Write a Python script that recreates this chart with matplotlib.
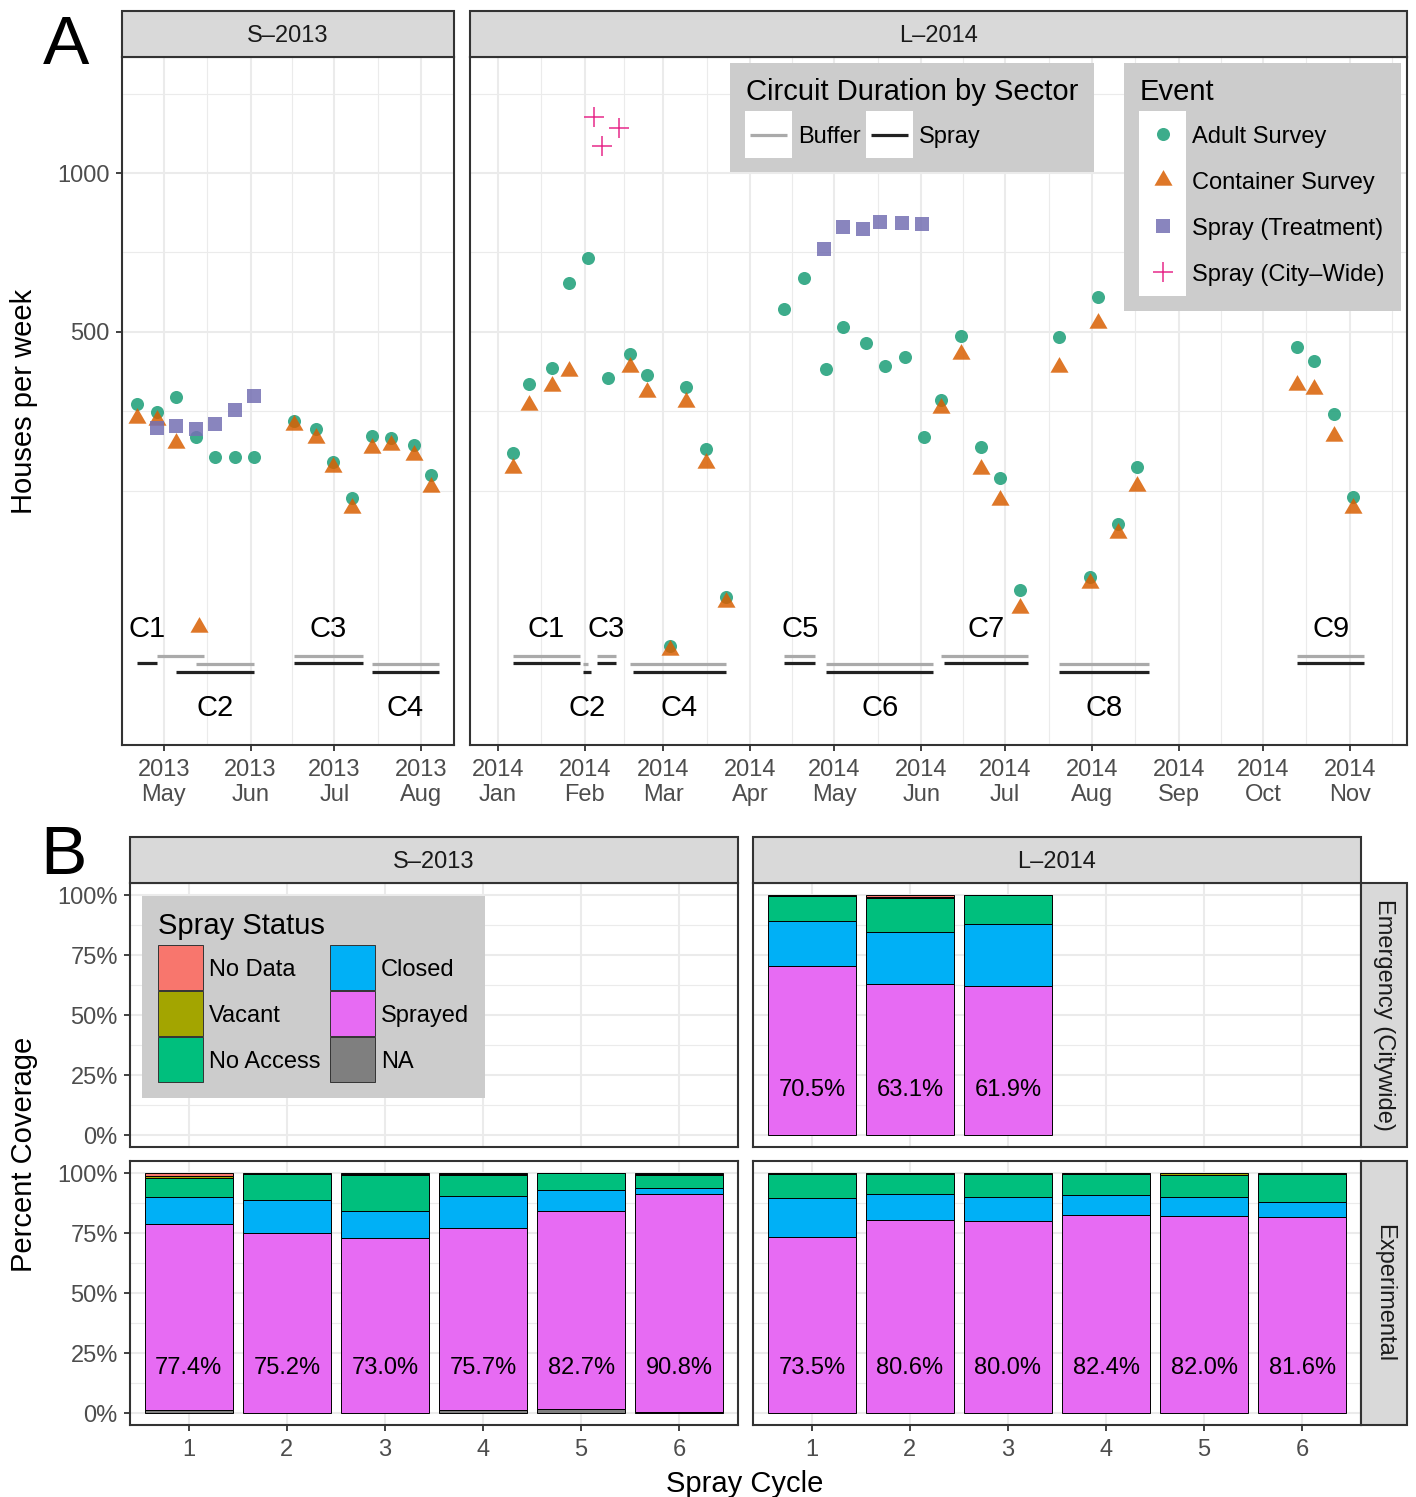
"""Survey / spray timeline (A) and spray coverage by cycle (B)."""

import matplotlib

matplotlib.use("Agg")
import matplotlib.dates as mdates
import matplotlib.pyplot as plt
import numpy as np
import pandas as pd
from matplotlib.patches import Rectangle
from matplotlib.path import Path
from matplotlib.ticker import FixedLocator, FuncFormatter, NullFormatter
from matplotlib.transforms import offset_copy

plt.rcParams["font.family"] = ["Liberation Sans", "DejaVu Sans"]

# ---------------- panel A : houses per week ----------------
s13_adult_dates = ["2013-04-22", "2013-04-29", "2013-05-06", "2013-05-13", "2013-05-20",
                   "2013-05-27", "2013-06-03", "2013-06-17", "2013-06-25", "2013-07-01",
                   "2013-07-08", "2013-07-15", "2013-07-22", "2013-07-30", "2013-08-05"]
s13_adult = [365, 353, 377, 316, 290, 290, 290, 339, 327, 284, 242, 318, 315, 305, 268]
s13_container_dates = ["2013-04-22", "2013-04-29", "2013-05-06", "2013-05-14", "2013-06-17",
                       "2013-06-25", "2013-07-01", "2013-07-08", "2013-07-15", "2013-07-22",
                       "2013-07-30", "2013-08-05"]
s13_container = [344, 340, 308, 138, 333, 315, 277, 232, 301, 305, 292, 254]
s13_treat_dates = ["2013-04-29", "2013-05-06", "2013-05-13", "2013-05-20", "2013-05-27",
                   "2013-06-03"]
s13_treat = [329, 332, 327, 335, 356, 378]
s13_city_dates = []
s13_city = []

s13_cycles = ["C1", "C2", "C3", "C4"]
s13_buffer_start = ["2013-04-29", "2013-05-13", "2013-06-17", "2013-07-15"]
s13_buffer_end = ["2013-05-16", "2013-06-03", "2013-07-12", "2013-08-08"]
s13_spray_start = ["2013-04-22", "2013-05-06", "2013-06-17", "2013-07-15"]
s13_spray_end = ["2013-04-29", "2013-06-03", "2013-07-12", "2013-08-08"]

l14_adult_dates = ["2014-01-07", "2014-01-13", "2014-01-21", "2014-01-27", "2014-02-03",
                   "2014-02-10", "2014-02-18", "2014-02-24", "2014-03-04", "2014-03-10",
                   "2014-03-17", "2014-03-24", "2014-04-14", "2014-04-21", "2014-04-29",
                   "2014-05-05", "2014-05-13", "2014-05-20", "2014-05-27", "2014-06-03",
                   "2014-06-09", "2014-06-16", "2014-06-23", "2014-06-30", "2014-07-07",
                   "2014-07-21", "2014-08-01", "2014-08-04", "2014-08-11", "2014-08-18",
                   "2014-10-14", "2014-10-20", "2014-10-27", "2014-11-03"]
l14_adult = [295, 398, 427, 619, 690, 409, 454, 414, 127, 393,
             300, 157, 553, 633, 425, 511, 477, 431, 448, 316,
             372, 491, 303, 264, 162, 489, 172, 582, 216, 277,
             468, 440, 350, 243]
l14_container_dates = ["2014-01-07", "2014-01-13", "2014-01-21", "2014-01-27", "2014-02-18",
                       "2014-02-24", "2014-03-04", "2014-03-10", "2014-03-17", "2014-03-24",
                       "2014-06-09", "2014-06-16", "2014-06-23", "2014-06-30", "2014-07-07",
                       "2014-07-21", "2014-08-01", "2014-08-04", "2014-08-11", "2014-08-18",
                       "2014-10-14", "2014-10-20", "2014-10-27", "2014-11-03"]
l14_container = [276, 364, 395, 422, 429, 385, 125, 368, 282, 154,
                 359, 454, 275, 240, 150, 429, 167, 520, 208, 255,
                 397, 390, 318, 232]
l14_treat_dates = ["2014-04-28", "2014-05-05", "2014-05-12", "2014-05-18", "2014-05-26",
                   "2014-06-02"]
l14_treat = [718, 790, 783, 808, 804, 801]
l14_city_dates = ["2014-02-05", "2014-02-08", "2014-02-14"]
l14_city = [1276, 1125, 1217]

l14_cycles = ["C1", "C2", "C3", "C4", "C5", "C6", "C7", "C8", "C9"]
l14_buffer_start = ["2014-01-07", "2014-02-01", "2014-02-06", "2014-02-18", "2014-04-14",
                    "2014-04-29", "2014-06-09", "2014-07-21", "2014-10-14"]
l14_buffer_end = ["2014-01-31", "2014-02-03", "2014-02-13", "2014-03-24", "2014-04-25",
                  "2014-06-06", "2014-07-10", "2014-08-22", "2014-11-07"]
l14_spray_start = ["2014-01-07", "2014-02-01", "2014-02-06", "2014-02-19", "2014-04-14",
                   "2014-04-29", "2014-06-10", "2014-07-21", "2014-10-14"]
l14_spray_end = ["2014-01-31", "2014-02-04", "2014-02-13", "2014-03-24", "2014-04-25",
                 "2014-06-06", "2014-07-10", "2014-08-22", "2014-11-07"]

# ---------------- panel B : spray coverage ----------------
stack_order = ["NA", "Sprayed", "Closed", "No Access", "Vacant", "No Data"]
status_colors = {"No Data": "#F8766D", "Vacant": "#A3A500", "No Access": "#00BF7D",
                 "Closed": "#00B0F6", "Sprayed": "#E76BF3", "NA": "#7F7F7F"}
legend_order = ["No Data", "Vacant", "No Access", "Closed", "Sprayed", "NA"]

cycles6 = [1, 2, 3, 4, 5, 6]
cycles3 = [1, 2, 3]
s13_experimental = {
    "NA":        [0.0125, 0.0, 0.0, 0.0125, 0.0167, 0.006],
    "Sprayed":   [0.774, 0.752, 0.730, 0.757, 0.827, 0.908],
    "Closed":    [0.112, 0.137, 0.111, 0.135, 0.084, 0.025],
    "No Access": [0.080, 0.105, 0.149, 0.088, 0.072, 0.053],
    "Vacant":    [0.008, 0.006, 0.007, 0.004, 0.0003, 0.004],
    "No Data":   [0.0135, 0.0, 0.003, 0.0035, 0.0, 0.004],
}
l14_experimental = {
    "NA":        [0.0, 0.0, 0.0, 0.0, 0.0, 0.0],
    "Sprayed":   [0.735, 0.806, 0.800, 0.824, 0.820, 0.816],
    "Closed":    [0.159, 0.105, 0.098, 0.084, 0.082, 0.065],
    "No Access": [0.102, 0.085, 0.098, 0.088, 0.089, 0.115],
    "Vacant":    [0.004, 0.004, 0.004, 0.004, 0.009, 0.004],
    "No Data":   [0.0, 0.0, 0.0, 0.0, 0.0, 0.0],
}
l14_emergency = {
    "NA":        [0.0, 0.0, 0.0],
    "Sprayed":   [0.705, 0.631, 0.619],
    "Closed":    [0.187, 0.213, 0.261],
    "No Access": [0.103, 0.142, 0.119],
    "Vacant":    [0.005, 0.007, 0.001],
    "No Data":   [0.0, 0.007, 0.0],
}

# ---------------- styling ----------------
W, H, DPI = 1416, 1497, 100
GREEN, ORANGE, PURPLE, PINK = "#1B9E77", "#D95F02", "#7570B3", "#E7298A"
BUFFER_COL, SPRAY_COL = "#aaaaaa", "#222222"
GRID = "#ebebeb"
FRAME = "#333333"
TICK_TXT = "#4d4d4d"
# vertical placement of the circuit bars and their labels (odd / even cycles)
BUF_Y = (121.7, 117.5)
SPR_Y = (118.0, 113.4)
LAB_Y = (138.0, 98.0)
TRI = Path([(0, 1), (-0.866, -0.5), (0.866, -0.5), (0, 1)],
           [Path.MOVETO, Path.LINETO, Path.LINETO, Path.CLOSEPOLY])

fig = plt.figure(figsize=(W / DPI, H / DPI), dpi=DPI)
fig.patch.set_facecolor("white")


def px_axes(x0, y0, x1, y1):
    return fig.add_axes([x0 / W, 1 - y1 / H, (x1 - x0) / W, (y1 - y0) / H])


def to_num(dates):
    return mdates.date2num(pd.to_datetime(dates))


def style_panel(ax):
    for sp in ax.spines.values():
        sp.set_color(FRAME)
        sp.set_linewidth(1.5)
    ax.grid(which="major", color=GRID, lw=1.5)
    ax.grid(which="minor", color=GRID, lw=0.8)
    ax.set_axisbelow(True)
    ax.tick_params(which="major", length=4.3, width=1.3, color=FRAME,
                   labelsize=17, labelcolor=TICK_TXT)
    ax.tick_params(axis="x", which="major", pad=6)
    ax.tick_params(axis="y", which="major", pad=4.5)
    ax.tick_params(which="minor", length=0)


def point(ax, x, y, **kw):
    ax.plot(x, y, ls="none", **kw)


def draw_timeline(ax, adult_d, adult, cont_d, cont, treat_d, treat, city_d, city,
                  cycles, buf_s, buf_e, spr_s, spr_e, show_y):
    style_panel(ax)
    ax.set_yscale("log")
    bs, be, ss, se = to_num(buf_s), to_num(buf_e), to_num(spr_s), to_num(spr_e)
    lab_tr = offset_copy(ax.transData, fig=fig, y=-2, units="dots")
    for i, name in enumerate(cycles):
        k = i % 2
        ax.hlines(BUF_Y[k], bs[i], be[i], color=BUFFER_COL, lw=2.3, capstyle="butt", zorder=2)
        ax.hlines(SPR_Y[k], ss[i], se[i], color=SPRAY_COL, lw=2.3, capstyle="butt", zorder=2)
        ax.text((ss[i] + se[i]) / 2, LAB_Y[k], name, ha="center", va="center",
                fontsize=21, color="black", zorder=3, transform=lab_tr)
    point(ax, to_num(adult_d), adult, marker="o", ms=9.4, color=GREEN, alpha=0.85, mew=0, zorder=4)
    point(ax, to_num(cont_d), cont, marker=TRI, ms=15, color=ORANGE, alpha=0.85, mew=0, zorder=5)
    if treat:
        point(ax, to_num(treat_d), treat, marker="s", ms=10, color=PURPLE, alpha=0.85, mew=0, zorder=6)
    if city:
        point(ax, to_num(city_d), city, marker="+", ms=15, color=PINK, mew=1.1, zorder=7)

    alld = np.concatenate([to_num(adult_d), to_num(cont_d), bs, be, ss, se])
    lo, hi = alld.min(), alld.max()
    pad = 0.05 * (hi - lo)
    ax.set_xlim(lo - pad, hi + pad)
    months = pd.date_range(pd.Timestamp(mdates.num2date(lo - pad)).tz_localize(None)
                           - pd.offsets.MonthBegin(2), periods=16, freq="MS")
    mnum = mdates.date2num(months)
    ax.xaxis.set_major_locator(FixedLocator(mnum))
    ax.xaxis.set_minor_locator(FixedLocator((mnum[:-1] + mnum[1:]) / 2))
    ax.xaxis.set_major_formatter(mdates.DateFormatter("%Y\n%b"))
    for lbl in ax.get_xticklabels():
        lbl.set_linespacing(1.13)

    ax.set_ylim(82.5, 1659)
    majors = [500, 1000]
    ext = [250, 500, 1000, 2000]
    ax.yaxis.set_major_locator(FixedLocator(majors))
    ax.yaxis.set_major_formatter(FuncFormatter(lambda v, p: f"{v:.0f}"))
    ax.yaxis.set_minor_locator(FixedLocator(ext + list(np.sqrt(np.multiply(ext[:-1], ext[1:])))))
    ax.yaxis.set_minor_formatter(NullFormatter())
    if not show_y:
        ax.tick_params(axis="y", which="both", length=0, labelleft=False)


def draw_bars(ax, cycles, fractions, show_x, show_y):
    style_panel(ax)
    bottom = np.zeros(len(cycles))
    if fractions is not None:
        for status in stack_order:
            vals = np.asarray(fractions[status], dtype=float)
            keep = vals > 0
            ax.bar(np.asarray(cycles)[keep], vals[keep], bottom=bottom[keep], width=0.9,
                   color=status_colors[status], edgecolor="black", linewidth=0.7, zorder=2)
            bottom += vals
        lab_tr = offset_copy(ax.transData, fig=fig, y=-3, units="dots")
        for c, s in zip(cycles, fractions["Sprayed"]):
            ax.text(c, 0.2, f"{s * 100:.1f}%", ha="center", va="center",
                    fontsize=17, color="black", zorder=3, transform=lab_tr)
    ax.set_xlim(0.4, 6.6)
    ax.set_ylim(-0.05, 1.05)
    ax.xaxis.set_major_locator(FixedLocator(cycles6))
    ax.xaxis.set_minor_locator(FixedLocator([]))
    ax.yaxis.set_major_locator(FixedLocator([0, 0.25, 0.5, 0.75, 1.0]))
    ax.yaxis.set_minor_locator(FixedLocator([0.125, 0.375, 0.625, 0.875]))
    ax.yaxis.set_major_formatter(FuncFormatter(lambda v, p: f"{v * 100:.0f}%"))
    if not show_x:
        ax.tick_params(axis="x", length=0, labelbottom=False)
    if not show_y:
        ax.tick_params(axis="y", which="both", length=0, labelleft=False)


# ---- panel A axes
axA1 = px_axes(122, 57, 454, 745)
axA2 = px_axes(470, 57, 1407, 745)
draw_timeline(axA1, s13_adult_dates, s13_adult, s13_container_dates, s13_container,
              s13_treat_dates, s13_treat, s13_city_dates, s13_city,
              s13_cycles, s13_buffer_start, s13_buffer_end, s13_spray_start, s13_spray_end, True)
draw_timeline(axA2, l14_adult_dates, l14_adult, l14_container_dates, l14_container,
              l14_treat_dates, l14_treat, l14_city_dates, l14_city,
              l14_cycles, l14_buffer_start, l14_buffer_end, l14_spray_start, l14_spray_end, False)

# ---- panel B axes
axB11 = px_axes(130, 883, 738, 1147)
axB12 = px_axes(753, 883, 1361, 1147)
axB21 = px_axes(130, 1161, 738, 1425)
axB22 = px_axes(753, 1161, 1361, 1425)
draw_bars(axB11, cycles6, None, False, True)
draw_bars(axB12, cycles3, l14_emergency, False, False)
draw_bars(axB21, cycles6, s13_experimental, True, True)
draw_bars(axB22, cycles6, l14_experimental, True, False)

# ---- overlay in pixel units for strips, legends and titles
ov = fig.add_axes([0, 0, 1, 1])
ov.set_xlim(0, W)
ov.set_ylim(H, 0)
ov.axis("off")
ov.patch.set_alpha(0)


def otext(x, y, s, size, **kw):
    # va="center" includes the descender box; nudge down to centre the glyphs
    kw.setdefault("ha", "left")
    ov.text(x, y + 2.5, s, va="center", fontsize=size, **kw)


def strip(x0, y0, x1, y1, label, rot=0):
    ov.add_patch(Rectangle((x0, y0), x1 - x0, y1 - y0, fc="#d9d9d9", ec=FRAME, lw=1.5))
    if rot:
        ov.text((x0 + x1) / 2, (y0 + y1) / 2, label, ha="center", va="center",
                fontsize=17, color="#1a1a1a", rotation=rot)
    else:
        otext((x0 + x1) / 2, (y0 + y1) / 2, label, 17, ha="center", color="#1a1a1a")


strip(122, 11, 454, 57, "S\u20132013")
strip(470, 11, 1407, 57, "L\u20132014")
strip(130, 837, 738, 883, "S\u20132013")
strip(753, 837, 1361, 883, "L\u20132014")
strip(1361, 883, 1407, 1147, "Emergency (Citywide)", rot=270)
strip(1361, 1161, 1407, 1425, "Experimental", rot=270)

# legend: circuit duration
ov.add_patch(Rectangle((730, 63), 364, 109, fc="#cccccc", ec="none"))
otext(746, 90, "Circuit Duration by Sector", 21)
for kx, col, lab in [(745, BUFFER_COL, "Buffer"), (866, SPRAY_COL, "Spray")]:
    ov.add_patch(Rectangle((kx, 111), 47, 47, fc="white", ec="none"))
    ov.plot([kx + 5, kx + 42], [134.5, 134.5], color=col, lw=2.3, solid_capstyle="butt")
    otext(kx + 53, 134.5, lab, 17)

# legend: event
ov.add_patch(Rectangle((1124, 63), 277, 248, fc="#cccccc", ec="none"))
otext(1140, 90, "Event", 21)
ov.add_patch(Rectangle((1139, 111), 47, 185, fc="white", ec="none"))
event_keys = [("Adult Survey", dict(marker="o", ms=9.4, color=GREEN, alpha=0.85, mew=0)),
              ("Container Survey", dict(marker=TRI, ms=15, color=ORANGE, alpha=0.85, mew=0)),
              ("Spray (Treatment)", dict(marker="s", ms=10, color=PURPLE, alpha=0.85, mew=0)),
              ("Spray (City\u2013Wide)", dict(marker="+", ms=15, color=PINK, mew=1.1))]
for i, (lab, kw) in enumerate(event_keys):
    yy = 134 + 46 * i
    ov.plot([1162.5], [yy], ls="none", **kw)
    otext(1192, yy, lab, 17)

# legend: spray status
ov.add_patch(Rectangle((142, 896), 343, 202, fc="#cccccc", ec="none"))
otext(158, 923, "Spray Status", 21)
for i, status in enumerate(legend_order):
    col, row = divmod(i, 3)
    kx = 158 + 172 * col
    ky = 945 + 46 * row
    ov.add_patch(Rectangle((kx, ky), 45, 45, fc=status_colors[status], ec="#333333", lw=0.7))
    otext(kx + 51, ky + 22.5, status, 17)

# panel letters and axis titles
ov.text(43, 64, "A", ha="left", va="baseline", fontsize=50)
ov.text(40, 874, "B", ha="left", va="baseline", fontsize=50)
ov.text(24, 401, "Houses per week", rotation=90, ha="center", va="center", fontsize=21)
ov.text(24, 1154, "Percent Coverage", rotation=90, ha="center", va="center", fontsize=21)
otext(745, 1481, "Spray Cycle", 21, ha="center")

fig.savefig("out.png", dpi=DPI)
